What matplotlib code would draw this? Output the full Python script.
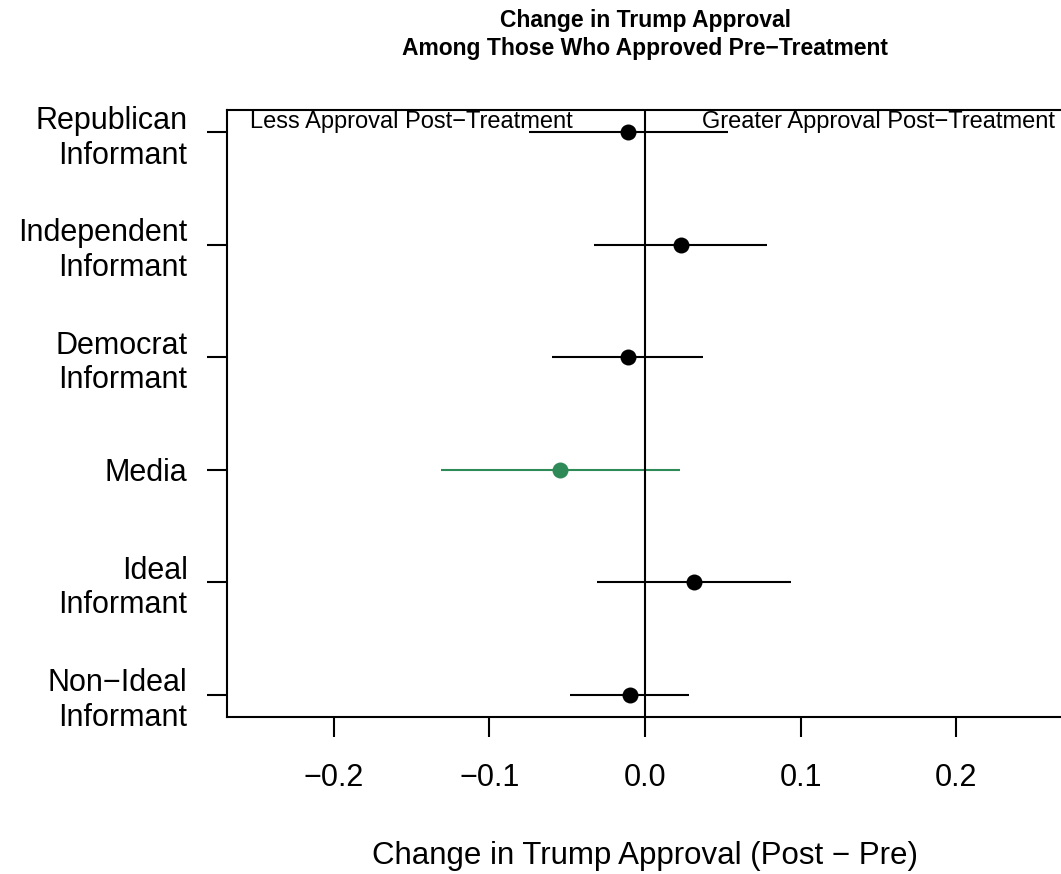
import numpy as np
import matplotlib.pyplot as plt

plt.rcParams['font.family'] = ['Liberation Sans', 'DejaVu Sans']

# treatment groups, top to bottom
groups = ['Republican\nInformant', 'Independent\nInformant', 'Democrat\nInformant',
          'Media', 'Ideal\nInformant', 'Non\u2212Ideal\nInformant']
est = [-0.0108, 0.0230, -0.0112, -0.0544, 0.0316, -0.0097]
lo = [-0.0746, -0.0327, -0.0596, -0.1312, -0.0308, -0.0480]
hi = [0.0531, 0.0785, 0.0376, 0.0226, 0.0942, 0.0286]
colors = ['black', 'black', 'black', '#2E8B57', 'black', 'black']

xticks = [-0.2, -0.1, 0.0, 0.1, 0.2]
xticklabels = ['\u22120.2', '\u22120.1', '0.0', '0.1', '0.2']

W, H = 1061, 874
fig = plt.figure(figsize=(W / 100, H / 100), dpi=100)
ax = fig.add_axes([227 / W, 1 - 717 / H, (1063 - 227) / W, (717 - 110) / H])

ypos = np.arange(len(groups), 0, -1)
for y, e, l, h, c in zip(ypos, est, lo, hi, colors):
    ax.plot([l, h], [y, y], color=c, lw=1.5, solid_capstyle='butt')
    ax.plot(e, y, 'o', color=c, markersize=11.5, markeredgewidth=0)

ax.axvline(0, color='black', lw=1.5)

ax.set_xlim(-0.2688, 0.2688)
ax.set_ylim(0.8, 6.2)

ax.set_yticks(ypos)
ax.set_yticklabels(groups, fontsize=22, linespacing=1.2)
ax.set_xticks(xticks)
ax.set_xticklabels(xticklabels, fontsize=22)
ax.tick_params(axis='both', length=14.4, width=1.5, direction='out')
ax.tick_params(axis='y', pad=14)
ax.tick_params(axis='x', pad=19)
for s in ax.spines.values():
    s.set_linewidth(1.5)

ax.text(-0.15, 6.036, 'Less Approval Post\u2212Treatment', fontsize=17,
        ha='center', va='baseline')
ax.text(0.15, 6.036, 'Greater Approval Post\u2212Treatment', fontsize=17,
        ha='center', va='baseline')

fig.text(645 / W, 1 - 27 / H, 'Change in Trump Approval', fontsize=16.5,
         fontweight='bold', ha='center', va='baseline')
fig.text(645 / W, 1 - 55 / H, 'Among Those Who Approved Pre\u2212Treatment', fontsize=16.5,
         fontweight='bold', ha='center', va='baseline')
fig.text(645 / W, 1 - 864 / H, 'Change in Trump Approval (Post \u2212 Pre)', fontsize=22.5,
         ha='center', va='baseline')

fig.savefig('out.png', dpi=100)
